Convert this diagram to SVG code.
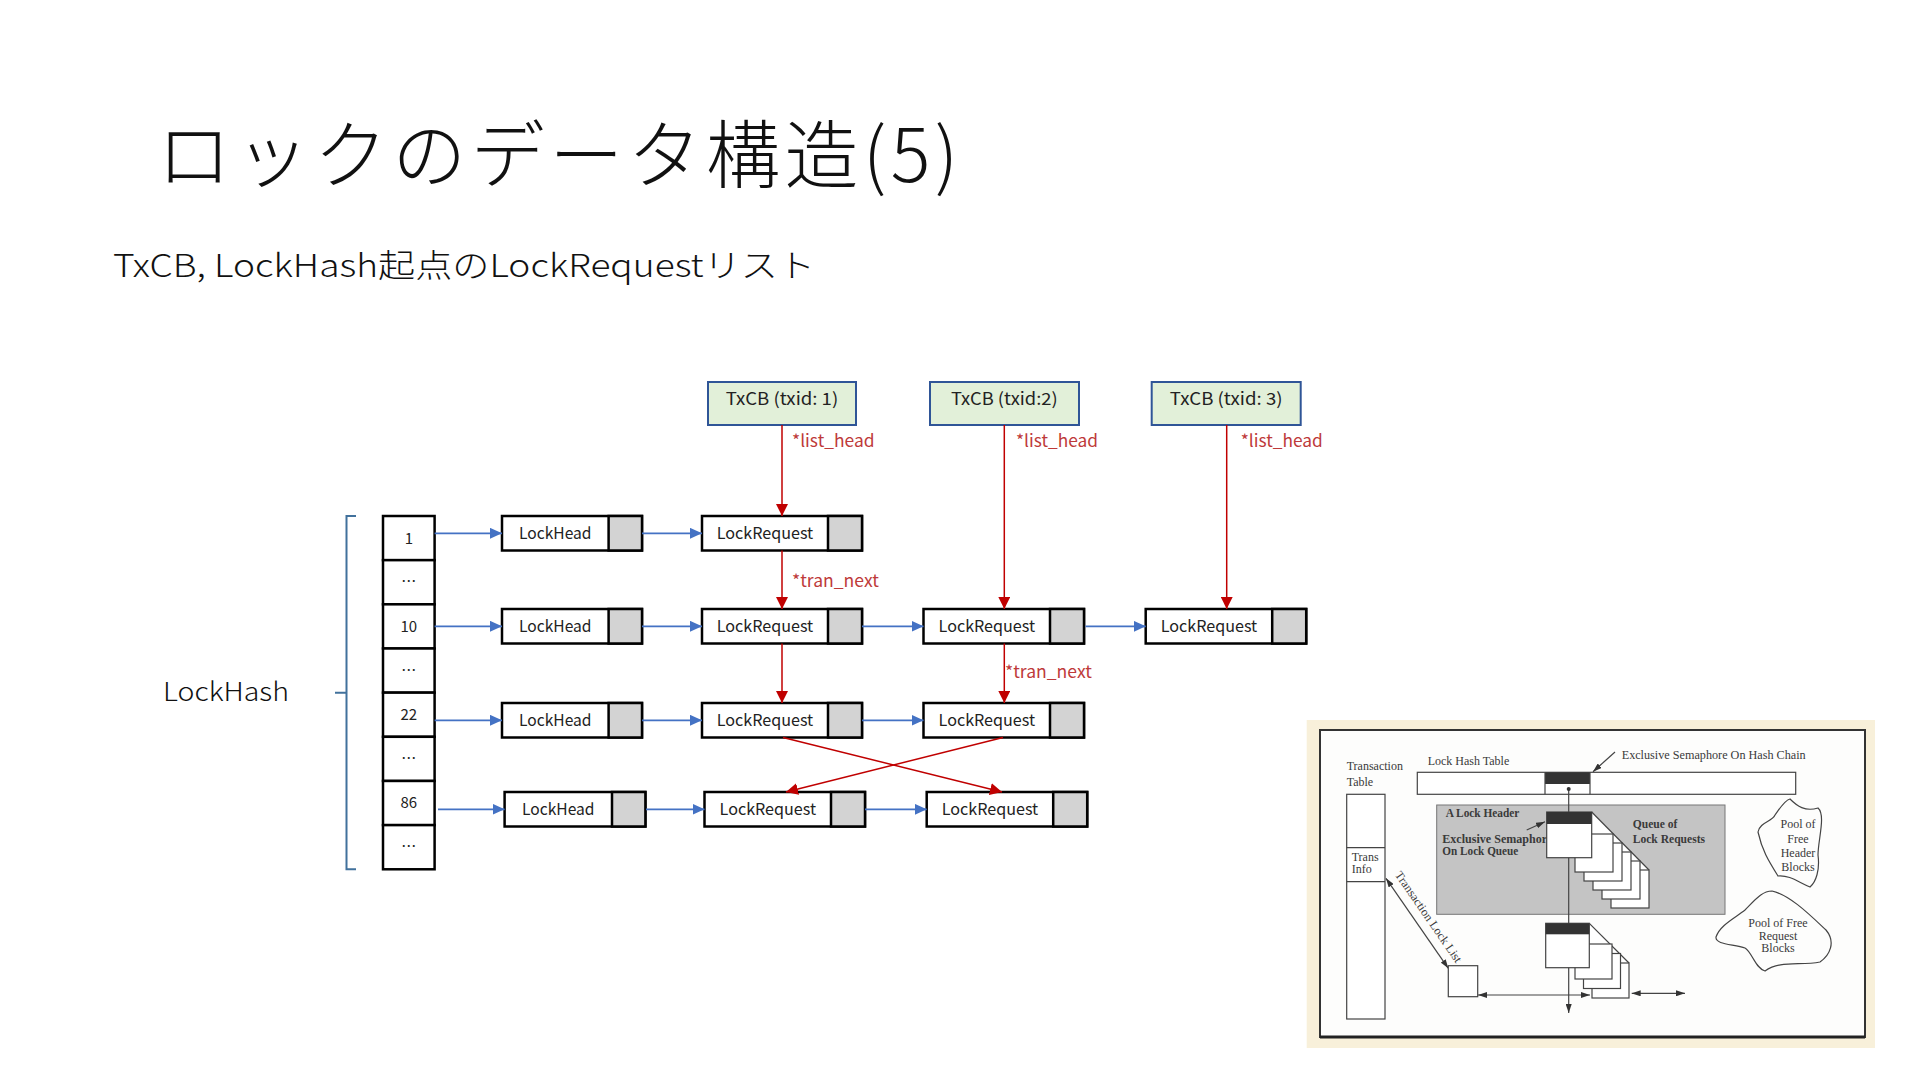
<svg xmlns="http://www.w3.org/2000/svg" width="1920" height="1080" viewBox="0 0 1920 1080">
<style>
.t{font-family:"Noto Sans CJK JP","Noto Sans",sans-serif}
.box{fill:#fff;stroke:#000;stroke-width:2.5}
.gry{fill:#d3d3d3;stroke:#000;stroke-width:2.5}
.txcb{fill:#e2f0d9;stroke:#2f5597;stroke-width:2}
.bx{font-size:16px;fill:#222;text-anchor:middle}
.tx{font-size:17px;fill:#222;text-anchor:middle}
.lbl{font-size:17px;fill:#be3a3a}
.num{font-size:15px;fill:#222;text-anchor:middle}
.bl{stroke:#4472c4;stroke-width:1.8;fill:none}
.rd{stroke:#c00000;stroke-width:1.5;fill:none}
.fs{font-family:"Liberation Serif","Times New Roman",serif;font-size:12px;fill:#3a3a3a}
.fb{font-weight:bold}
.fl{stroke:#444;stroke-width:1.2;fill:none}
.fw{fill:#fff;stroke:#444;stroke-width:1.2}
</style>
<defs>
<marker id="ab" markerWidth="12" markerHeight="11" refX="12" refY="5.5" orient="auto" markerUnits="userSpaceOnUse"><path d="M0,0L12,5.5L0,11z" fill="#4472c4"/></marker>
<marker id="ar" markerWidth="12" markerHeight="12" refX="12" refY="6" orient="auto" markerUnits="userSpaceOnUse"><path d="M0,0L12,6L0,12z" fill="#c00000"/></marker>
<marker id="af" markerWidth="9" markerHeight="6" refX="9" refY="3" orient="auto-start-reverse" markerUnits="userSpaceOnUse"><path d="M0,0L9,3L0,6z" fill="#333"/></marker>
</defs>
<rect width="1920" height="1080" fill="#fff"/>

<g id="title">
<text class="t" x="157" y="182" font-size="74" font-weight="300" fill="#111" textLength="801" lengthAdjust="spacing">ロックのデータ構造(5)</text>
<text class="t" x="113" y="277" font-size="32" font-weight="300" fill="#111" textLength="702" lengthAdjust="spacingAndGlyphs">TxCB, LockHash起点のLockRequestリスト</text>
</g>

<g id="lockhash-label">
<text class="t" x="163" y="701" font-size="26" font-weight="300" fill="#111" textLength="126" lengthAdjust="spacingAndGlyphs">LockHash</text>
<path d="M356,516L346.5,516L346.5,869.3L356,869.3M346.5,692.7L335,692.7" fill="none" stroke="#41719c" stroke-width="2"/>
</g>

<g id="lockhash-table" class="t">
<rect class="box" x="383" y="516" width="51.6" height="44.16"/>
<rect class="box" x="383" y="560.16" width="51.6" height="44.16"/>
<rect class="box" x="383" y="604.32" width="51.6" height="44.16"/>
<rect class="box" x="383" y="648.48" width="51.6" height="44.16"/>
<rect class="box" x="383" y="692.64" width="51.6" height="44.16"/>
<rect class="box" x="383" y="736.8" width="51.6" height="44.16"/>
<rect class="box" x="383" y="780.96" width="51.6" height="44.16"/>
<rect class="box" x="383" y="825.12" width="51.6" height="44.16"/>
<text class="num" x="408.8" y="543.5">1</text>
<text class="num" x="408.8" y="587" font-size="13">…</text>
<text class="num" x="408.8" y="631.7">10</text>
<text class="num" x="408.8" y="675.5" font-size="13">…</text>
<text class="num" x="408.8" y="720">22</text>
<text class="num" x="408.8" y="763.8" font-size="13">…</text>
<text class="num" x="408.8" y="808.3">86</text>
<text class="num" x="408.8" y="852" font-size="13">…</text>
</g>

<g id="txcb-1" class="t"><rect class="txcb" x="708" y="382" width="148" height="43"/><text class="tx" x="782" y="405" textLength="112.5" lengthAdjust="spacingAndGlyphs">TxCB (txid: 1)</text></g>
<g id="txcb-2" class="t"><rect class="txcb" x="930" y="382" width="149" height="43"/><text class="tx" x="1004.3" y="405" textLength="106.7" lengthAdjust="spacingAndGlyphs">TxCB (txid:2)</text></g>
<g id="txcb-3" class="t"><rect class="txcb" x="1151.7" y="382" width="149" height="43"/><text class="tx" x="1226.2" y="405" textLength="112.7" lengthAdjust="spacingAndGlyphs">TxCB (txid: 3)</text></g>

<g id="lockhead-1" class="t"><rect class="box" x="502" y="516" width="140" height="34.5"/><rect class="gry" x="608.6" y="516" width="33.4" height="34.5"/><text class="bx" x="555.3" y="538.8" textLength="72.5" lengthAdjust="spacingAndGlyphs">LockHead</text></g>
<g id="lockhead-10" class="t"><rect class="box" x="502" y="609" width="140" height="34.5"/><rect class="gry" x="608.6" y="609" width="33.4" height="34.5"/><text class="bx" x="555.3" y="631.8" textLength="72.5" lengthAdjust="spacingAndGlyphs">LockHead</text></g>
<g id="lockhead-22" class="t"><rect class="box" x="502" y="703" width="140" height="34.5"/><rect class="gry" x="608.6" y="703" width="33.4" height="34.5"/><text class="bx" x="555.3" y="725.8" textLength="72.5" lengthAdjust="spacingAndGlyphs">LockHead</text></g>
<g id="lockhead-86" class="t"><rect class="box" x="504.6" y="792" width="140.8" height="34.5"/><rect class="gry" x="612" y="792" width="33.4" height="34.5"/><text class="bx" x="558.3" y="814.8" textLength="72.5" lengthAdjust="spacingAndGlyphs">LockHead</text></g>

<g id="lockrequest-1-1" class="t"><rect class="box" x="702" y="516" width="160" height="34.5"/><rect class="gry" x="828" y="516" width="34" height="34.5"/><text class="bx" x="765" y="538.8" textLength="96.4" lengthAdjust="spacingAndGlyphs">LockRequest</text></g>
<g id="lockrequest-10-1" class="t"><rect class="box" x="702" y="609" width="160" height="34.5"/><rect class="gry" x="828" y="609" width="34" height="34.5"/><text class="bx" x="765" y="631.8" textLength="96.4" lengthAdjust="spacingAndGlyphs">LockRequest</text></g>
<g id="lockrequest-10-2" class="t"><rect class="box" x="923.5" y="609" width="160.5" height="34.5"/><rect class="gry" x="1050" y="609" width="34" height="34.5"/><text class="bx" x="986.8" y="631.8" textLength="96.4" lengthAdjust="spacingAndGlyphs">LockRequest</text></g>
<g id="lockrequest-10-3" class="t"><rect class="box" x="1145.7" y="609" width="160.5" height="34.5"/><rect class="gry" x="1272.2" y="609" width="34" height="34.5"/><text class="bx" x="1209" y="631.8" textLength="96.4" lengthAdjust="spacingAndGlyphs">LockRequest</text></g>
<g id="lockrequest-22-1" class="t"><rect class="box" x="702" y="703" width="160" height="34.5"/><rect class="gry" x="828" y="703" width="34" height="34.5"/><text class="bx" x="765" y="725.8" textLength="96.4" lengthAdjust="spacingAndGlyphs">LockRequest</text></g>
<g id="lockrequest-22-2" class="t"><rect class="box" x="923.5" y="703" width="160.5" height="34.5"/><rect class="gry" x="1050" y="703" width="34" height="34.5"/><text class="bx" x="986.8" y="725.8" textLength="96.4" lengthAdjust="spacingAndGlyphs">LockRequest</text></g>
<g id="lockrequest-86-1" class="t"><rect class="box" x="704.5" y="792" width="160.5" height="34.5"/><rect class="gry" x="831" y="792" width="34" height="34.5"/><text class="bx" x="767.8" y="814.8" textLength="96.4" lengthAdjust="spacingAndGlyphs">LockRequest</text></g>
<g id="lockrequest-86-2" class="t"><rect class="box" x="926.7" y="792" width="160.5" height="34.5"/><rect class="gry" x="1053.2" y="792" width="34" height="34.5"/><text class="bx" x="990" y="814.8" textLength="96.4" lengthAdjust="spacingAndGlyphs">LockRequest</text></g>

<g id="connectors">
<line class="bl" x1="434.6" y1="533.3" x2="502" y2="533.3" marker-end="url(#ab)"/>
<line class="bl" x1="642" y1="533.3" x2="702" y2="533.3" marker-end="url(#ab)"/>
<line class="bl" x1="434.6" y1="626.3" x2="502" y2="626.3" marker-end="url(#ab)"/>
<line class="bl" x1="642" y1="626.3" x2="702" y2="626.3" marker-end="url(#ab)"/>
<line class="bl" x1="862" y1="626.3" x2="923.5" y2="626.3" marker-end="url(#ab)"/>
<line class="bl" x1="1085.5" y1="626.3" x2="1145.7" y2="626.3" marker-end="url(#ab)"/>
<line class="bl" x1="434.6" y1="720.3" x2="502" y2="720.3" marker-end="url(#ab)"/>
<line class="bl" x1="642" y1="720.3" x2="702" y2="720.3" marker-end="url(#ab)"/>
<line class="bl" x1="862" y1="720.3" x2="923.5" y2="720.3" marker-end="url(#ab)"/>
<line class="bl" x1="438" y1="809.3" x2="504.6" y2="809.3" marker-end="url(#ab)"/>
<line class="bl" x1="646" y1="809.3" x2="704.5" y2="809.3" marker-end="url(#ab)"/>
<line class="bl" x1="865" y1="809.3" x2="926.7" y2="809.3" marker-end="url(#ab)"/>
<line class="rd" x1="782" y1="425" x2="782" y2="516" marker-end="url(#ar)"/>
<line class="rd" x1="782" y1="550.5" x2="782" y2="609" marker-end="url(#ar)"/>
<line class="rd" x1="782" y1="643.5" x2="782" y2="703" marker-end="url(#ar)"/>
<line class="rd" x1="1004.3" y1="425" x2="1004.3" y2="609" marker-end="url(#ar)"/>
<line class="rd" x1="1004.3" y1="643.5" x2="1004.3" y2="703" marker-end="url(#ar)"/>
<line class="rd" x1="1226.7" y1="425" x2="1226.7" y2="609" marker-end="url(#ar)"/>
<line class="rd" x1="783" y1="737.5" x2="1002" y2="792" marker-end="url(#ar)"/>
<line class="rd" x1="1003" y1="737.5" x2="786" y2="792" marker-end="url(#ar)"/>
<g class="t">
<text class="lbl" x="792" y="447" textLength="82.5" lengthAdjust="spacingAndGlyphs">*list_head</text>
<text class="lbl" x="1016" y="447" textLength="82" lengthAdjust="spacingAndGlyphs">*list_head</text>
<text class="lbl" x="1240.7" y="447" textLength="82" lengthAdjust="spacingAndGlyphs">*list_head</text>
<text class="lbl" x="792" y="586.7" textLength="86.8" lengthAdjust="spacingAndGlyphs">*tran_next</text>
<text class="lbl" x="1005" y="678.3" textLength="86.8" lengthAdjust="spacingAndGlyphs">*tran_next</text>
</g>
</g>

<g id="reference-figure">
<rect x="1306.7" y="720" width="568.3" height="328" fill="#f8f0da"/>
<rect x="1320" y="730" width="545" height="307" fill="#fdfdfc" stroke="#333" stroke-width="2"/>
<line x1="1320" y1="1037" x2="1865" y2="1037" stroke="#222" stroke-width="3"/>
<text class="fs" x="1346.7" y="770">Transaction</text>
<text class="fs" x="1346.7" y="785.7">Table</text>
<text class="fs" x="1427.7" y="765">Lock Hash Table</text>
<text class="fs" x="1621.7" y="759" textLength="184" lengthAdjust="spacingAndGlyphs">Exclusive Semaphore On Hash Chain</text>
<line class="fl" x1="1615" y1="752" x2="1593" y2="771.7" marker-end="url(#af)"/>
<rect class="fw" x="1417.3" y="772.3" width="378.4" height="22"/>
<rect x="1545" y="772.3" width="45" height="11.7" fill="#333"/>
<line class="fl" x1="1545" y1="772.3" x2="1545" y2="794.3"/>
<line class="fl" x1="1590" y1="772.3" x2="1590" y2="794.3"/>
<rect x="1436.7" y="805" width="288.3" height="109.3" fill="#c4c4c4" stroke="#777" stroke-width="1"/>
<line class="fl" x1="1568.7" y1="789" x2="1568.7" y2="1013" marker-end="url(#af)"/>
<circle cx="1568.7" cy="789" r="2" fill="#333"/>
<text class="fs fb" x="1445.7" y="816.7" textLength="73.7" lengthAdjust="spacingAndGlyphs">A Lock Header</text>
<text class="fs fb" x="1442.3" y="843.3" textLength="110" lengthAdjust="spacingAndGlyphs">Exclusive Semaphore</text>
<text class="fs fb" x="1442.3" y="855" textLength="76" lengthAdjust="spacingAndGlyphs">On Lock Queue</text>
<text class="fs fb" x="1632.7" y="827.7" textLength="44.7" lengthAdjust="spacingAndGlyphs">Queue of</text>
<text class="fs fb" x="1632.7" y="842.7" textLength="72.3" lengthAdjust="spacingAndGlyphs">Lock Requests</text>
<polygon points="1591.7,812 1649,870 1591.7,870" fill="#fff"/>
<line class="fl" x1="1591.7" y1="812" x2="1649" y2="870"/>
<rect class="fw" x="1611" y="870" width="38" height="38"/>
<rect class="fw" x="1602" y="861" width="38" height="38"/>
<rect class="fw" x="1593" y="852" width="38" height="38"/>
<rect class="fw" x="1584" y="843" width="38" height="38"/>
<rect class="fw" x="1575" y="834" width="38" height="38"/>
<rect class="fw" x="1546.7" y="812" width="45" height="45.7"/>
<rect x="1546.7" y="812" width="45" height="12" fill="#333"/>
<line class="fl" x1="1526.7" y1="830" x2="1545" y2="821.7" marker-end="url(#af)"/>
<polygon points="1589.3,923.3 1629,963 1589.3,963" fill="#fff"/>
<line class="fl" x1="1589.3" y1="923.3" x2="1629" y2="963"/>
<rect class="fw" x="1592" y="963" width="37" height="35"/>
<rect class="fw" x="1583.5" y="953.5" width="37" height="35"/>
<rect class="fw" x="1575" y="944" width="37" height="35"/>
<rect class="fw" x="1545.7" y="923.3" width="43.6" height="44.4"/>
<rect x="1545.7" y="923.3" width="43.6" height="11" fill="#333"/>
<rect class="fw" x="1346.7" y="794.3" width="38.3" height="224.7"/>
<line class="fl" x1="1346.7" y1="847.7" x2="1385" y2="847.7"/>
<line class="fl" x1="1346.7" y1="881.7" x2="1385" y2="881.7"/>
<text class="fs" x="1351.7" y="860.7">Trans</text>
<text class="fs" x="1351.7" y="873.3">Info</text>
<line class="fl" x1="1386" y1="878.3" x2="1448.3" y2="968.3" marker-start="url(#af)" marker-end="url(#af)"/>
<text class="fs" x="1394.5" y="874.7" transform="rotate(55.3 1394.5 874.7)" textLength="108" lengthAdjust="spacingAndGlyphs">Transaction Lock List</text>
<rect class="fw" x="1448.3" y="965.7" width="29.4" height="31"/>
<line class="fl" x1="1478" y1="995" x2="1590" y2="995" marker-start="url(#af)" marker-end="url(#af)"/>
<line class="fl" x1="1631.7" y1="993.3" x2="1685" y2="993.3" marker-start="url(#af)" marker-end="url(#af)"/>
<path class="fl" d="M1790,799C1797,806 1805,812 1818,808C1826,815 1818,840 1818,855C1820,870 1816,882 1810,887C1798,882 1790,875 1778,876C1768,860 1762,850 1758,832C1760,822 1772,822 1775,815C1780,808 1785,800 1790,799Z"/>
<text class="fs" x="1798" y="828" text-anchor="middle">Pool of</text>
<text class="fs" x="1798" y="843" text-anchor="middle">Free</text>
<text class="fs" x="1798" y="857" text-anchor="middle">Header</text>
<text class="fs" x="1798" y="871" text-anchor="middle">Blocks</text>
<path class="fl" d="M1772,891C1790,895 1810,915 1826,930C1836,942 1830,955 1820,962C1800,966 1780,960 1765,971C1755,968 1752,952 1745,948C1735,944 1715,945 1716,937C1720,925 1735,918 1745,910C1755,900 1762,891 1772,891Z"/>
<text class="fs" x="1778" y="927" text-anchor="middle">Pool of Free</text>
<text class="fs" x="1778" y="939.5" text-anchor="middle">Request</text>
<text class="fs" x="1778" y="951.5" text-anchor="middle">Blocks</text>
</g>
</svg>
